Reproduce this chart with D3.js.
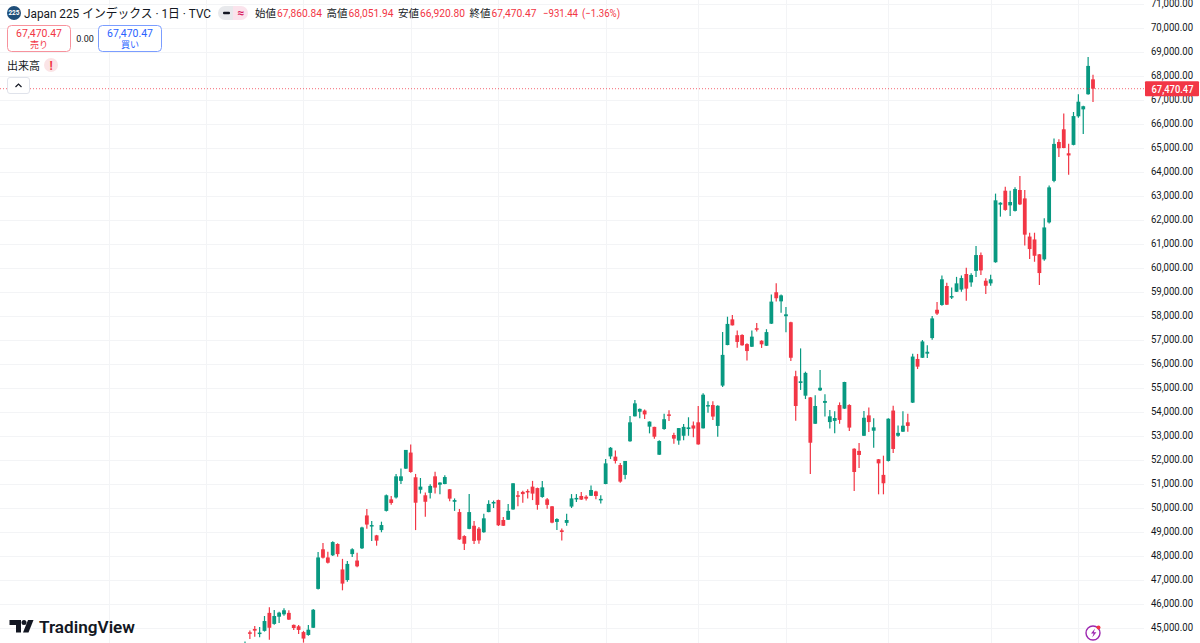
<!DOCTYPE html>
<html lang="ja">
<head>
<meta charset="utf-8">
<script src="https://cdn.jsdelivr.net/npm/d3@7"></script>
<style>
html,body{margin:0;padding:0;background:#fff;overflow:hidden}
svg{display:block}
text{font-family:Roboto,"Noto Sans CJK JP",sans-serif}
</style>
</head>
<body>
<svg id="chart" width="1200" height="643"></svg>
<script>
// Daily OHLC of the Japan 225 index, oldest session first.
const opens = [
 44000,44820,44960,44760,44880,45630,45170,45470,45570,45630,
 45130,45070,44830,44710,45010,46630,48280,47940,48030,48500,
 47440,47000,48080,47810,48320,49690,49250,48860,49080,49880,
 50360,50440,51130,51640,52310,51280,50760,50530,50630,51320,
 50970,51000,50780,50260,49830,48830,49130,49260,49140,48990,
 49830,50210,50330,49500,49510,49940,50530,50670,50710,50890,
 50830,50460,50360,50070,49420,49070,49380,50060,50360,50500,
 50470,50510,50690,50330,51000,52150,52140,51790,51380,52780,
 53820,54010,54060,53390,53380,52220,53290,53900,53040,52810,
 53010,53290,53440,53570,53320,54250,54290,53420,55100,56790,
 57860,57200,57210,56830,56720,57490,56970,56760,57680,58990,
 58610,57990,57740,55490,55210,54680,54610,53510,54900,54380,
 53580,53630,54290,54140,54290,52470,52380,53010,53860,53220,
 52030,51380,51960,54060,53010,53180,53570,54390,56210,56260,
 56430,57080,58260,58460,59250,58790,59010,59100,59750,59400,
 59880,60540,59470,59360,60240,62640,63220,62610,62380,63250,
 62900,61310,61190,60570,60360,61900,63630,65250,65780,64780,
 65130,66320,66610,67240,67860.84];
const highs = [
 44440,44900,45080,45040,45500,45860,45750,45680,45820,45740,
 45150,45130,44880,45130,45790,48170,48540,48180,48610,48530,
 47880,47790,48320,48140,49220,49960,49460,48880,49430,50560,
 50500,51420,51650,52420,52650,51420,51250,50650,50990,51510,
 51070,51360,50790,50400,49960,48860,50580,49460,49210,49760,
 50320,50310,50350,49630,50170,51030,50710,50720,50780,51130,
 50850,51130,50420,50080,49570,49150,49760,50580,50580,50670,
 50530,50940,50720,50530,52040,52540,52400,51880,51960,53830,
 54500,54150,54100,53610,53390,52820,53930,54070,53140,53330,
 53500,53780,53600,54250,54780,54450,54450,54280,57330,57970,
 58040,57400,57240,56860,57400,57710,56990,57450,58900,59360,
 58900,58380,57760,55720,56650,55680,54630,54700,55750,54740,
 54080,54030,54400,55260,54320,52490,52710,54040,54190,53740,
 52040,52180,53740,54260,53440,54030,53930,56430,56420,57000,
 56780,58000,58580,59690,59390,59190,59630,59690,60010,59780,
 60920,60650,59570,59720,63100,62740,63390,63220,63360,63830,
 63250,61470,61470,60580,62070,63440,65400,65360,66440,65180,
 66500,67240,66760,68790,68051.94];
const lows = [
 43900,44540,44640,44610,44850,44510,45140,45210,45510,45330,
 44920,44750,44390,44680,45000,46600,47900,47690,48000,47970,
 46570,46930,47960,47530,48290,49140,48630,48430,48990,49850,
 50140,50400,51000,51620,51470,49080,50600,49640,50400,50600,
 50570,50990,50280,49880,48670,48250,49110,48500,48510,48970,
 49820,50000,49250,49250,49500,49930,50070,50220,50400,50330,
 49930,50430,49970,49360,49080,48650,49260,50000,50250,50330,
 50310,50500,50360,50190,50990,52040,51850,51050,51200,52760,
 53810,53740,53710,53110,52890,52210,53260,53630,52680,52640,
 52820,53010,52950,52640,53310,53970,53670,52970,55040,56780,
 57600,56680,56760,56150,56710,57350,56670,56750,57670,58600,
 58140,57320,56130,53640,54920,54540,51420,53500,54880,53810,
 53310,53110,53510,54130,53210,50710,51670,53000,53170,52510,
 50570,50570,51940,52290,52970,53170,53180,54380,55790,56250,
 56250,57010,58040,58430,58460,58710,59000,59010,58640,59220,
 59630,59710,58920,59260,60220,62140,62390,62170,62350,62630,
 60940,60380,60260,59290,60300,61850,63570,64630,64990,63890,
 65110,66260,65580,67220,66920.80];
const closes = [
 44300,44760,44890,44810,45290,45010,45500,45640,45740,45350,
 45000,44920,44560,44930,45760,47940,47930,47720,48580,48080,
 46850,47670,48280,47570,49190,49310,49290,48640,49290,50530,
 50210,51320,51320,52420,51500,50220,50890,50260,50920,50850,
 51060,51290,50390,50330,48690,48510,49830,48630,48650,49570,
 50170,50250,49280,49260,49880,51030,50470,50580,50670,50600,
 50130,50860,50130,49390,49540,49000,49500,50400,50420,50350,
 50390,50750,50500,50380,51860,52510,51960,51100,51960,53570,
 54360,54130,53900,53600,52970,52790,53700,53850,52890,53330,
 53380,53360,53310,52650,54720,54290,53810,54260,56380,57670,
 57610,56920,56780,56540,57140,57430,56820,57330,58600,58740,
 58860,58070,56260,54250,55280,55630,52720,54250,55010,54460,
 53820,53750,53670,55250,53350,51500,52210,53760,53580,53360,
 51860,51030,53720,52460,53130,53430,53420,56310,55890,56940,
 56510,57900,58100,59530,58470,58830,59360,59580,59140,59710,
 60540,59900,59260,59530,62820,62720,62420,62750,63290,62650,
 61390,60790,60510,59790,61690,63360,65170,64990,65000,64690,
 66330,66930,66740,68420,67470.47];

// Price ticks on the right-hand scale and session offsets of the month gridlines.
const priceTicks = d3.range(45000, 71001, 1000);
const monthStartBars = [-28,-8,12,34,52,74,93,111,132,153,171];

const lastClose = closes[closes.length - 1];
const headerOHLC = [
  {label:"始値", value:opens[opens.length-1]},
  {label:"高値", value:highs[highs.length-1]},
  {label:"安値", value:lows[lows.length-1]},
  {label:"終値", value:lastClose}
];

const UP = "#089981", DOWN = "#f23645";
const svg = d3.select("#chart");
const fmt = d3.format(",.2f");

const x = d3.scaleLinear().domain([0, opens.length - 1]).range([245, 1093]);
const y = d3.scaleLinear().domain([45000, 71000]).range([628, 4]);

// Gridlines
const grid = svg.append("g").attr("stroke", "#f3f4f6").attr("stroke-width", 1);
grid.selectAll("line.h").data(priceTicks).join("line").attr("class", "h")
  .attr("x1", 0).attr("x2", 1144)
  .attr("y1", d => Math.round(y(d)) + 0.5).attr("y2", d => Math.round(y(d)) + 0.5);
grid.selectAll("line.v").data(monthStartBars).join("line").attr("class", "v")
  .attr("y1", 0).attr("y2", 643)
  .attr("x1", d => Math.round(x(d)) + 0.5).attr("x2", d => Math.round(x(d)) + 0.5);

// Candlesticks
const bars = d3.range(opens.length);
const colour = i => closes[i] >= opens[i] ? UP : DOWN;
const candles = svg.append("g");
candles.selectAll("line").data(bars).join("line")
  .attr("x1", x).attr("x2", x)
  .attr("y1", i => y(highs[i])).attr("y2", i => y(lows[i]))
  .attr("stroke", colour).attr("stroke-width", 1.2);
candles.selectAll("rect").data(bars).join("rect")
  .attr("x", i => x(i) - 1.9).attr("width", 3.8)
  .attr("y", i => y(Math.max(opens[i], closes[i])))
  .attr("height", i => Math.max(1.5, Math.abs(y(opens[i]) - y(closes[i]))))
  .attr("fill", colour);

// Last-price marker
svg.append("line").attr("x1", 0).attr("x2", 1145)
  .attr("y1", y(lastClose)).attr("y2", y(lastClose))
  .attr("stroke", DOWN).attr("stroke-width", 1).attr("stroke-opacity", 0.75).attr("stroke-dasharray", "1 2");

// Price axis
const axis = d3.axisRight(y).tickValues(priceTicks).tickFormat(fmt).tickSize(0).tickPadding(0);
const axisG = svg.append("g").attr("transform", "translate(1151,-0.7)").call(axis);
axisG.select(".domain").remove();
axisG.selectAll("text")
  .attr("fill", "#131722").attr("font-size", 11).attr("font-family", "Roboto")
  .attr("textLength", 42).attr("lengthAdjust", "spacingAndGlyphs");

svg.append("rect").attr("x", 1145).attr("y", y(lastClose) - 7.5).attr("width", 54).attr("height", 15)
  .attr("rx", 1).attr("fill", DOWN);
svg.append("text").attr("x", 1151.5).attr("y", y(lastClose) + 3.8)
  .attr("fill", "#fff").attr("font-size", 11).attr("font-weight", 500)
  .attr("textLength", 42).attr("lengthAdjust", "spacingAndGlyphs").text(fmt(lastClose));

// Header: symbol badge and title
svg.append("circle").attr("cx", 14).attr("cy", 13).attr("r", 7).attr("fill", "#1f4e79");
svg.append("text").attr("x", 14).attr("y", 15.3).attr("text-anchor", "middle")
  .attr("font-size", 6.5).attr("font-weight", 700).attr("fill", "#fff").text("225");
svg.append("text").attr("x", 24).attr("y", 17.5).attr("font-size", 12.5).attr("fill", "#131722")
  .attr("textLength", 187).attr("lengthAdjust", "spacingAndGlyphs")
  .text("Japan 225 インデックス · 1日 · TVC");

// Header: status pill
svg.append("path").attr("d", "M233 6H225a7 7 0 0 0 0 14h8Z").attr("fill", "#e8e9ec");
svg.append("path").attr("d", "M233 6h8a7 7 0 0 1 0 14h-8Z").attr("fill", "#fbe3ec");
svg.append("rect").attr("x", 223).attr("y", 11.8).attr("width", 7).attr("height", 2.4).attr("rx", 1).attr("fill", "#131722");
svg.append("text").attr("x", 241).attr("y", 17).attr("text-anchor", "middle")
  .attr("font-size", 12).attr("font-weight", 700).attr("fill", "#d81b60").text("≈");

// Header: OHLC read-out
const labelX = [255, 326.5, 398, 469.5];
const head = svg.append("g").attr("font-size", 11);
headerOHLC.forEach((d, i) => {
  head.append("text").attr("x", labelX[i]).attr("y", 17).attr("fill", "#131722").attr("font-size", 10.5).text(d.label);
  head.append("text").attr("x", labelX[i] + 22).attr("y", 17).attr("fill", DOWN)
    .attr("textLength", 45).attr("lengthAdjust", "spacingAndGlyphs").text(fmt(d.value));
});
head.append("text").attr("x", 543).attr("y", 17).attr("fill", DOWN)
  .attr("textLength", 35).attr("lengthAdjust", "spacingAndGlyphs").text("−931.44");
head.append("text").attr("x", 582).attr("y", 17).attr("fill", DOWN)
  .attr("textLength", 38).attr("lengthAdjust", "spacingAndGlyphs").text("(−1.36%)");

// Sell and buy boxes
function tradeBox(bx, w, stroke, ink, label) {
  svg.append("rect").attr("x", bx + .5).attr("y", 25.5).attr("width", w).attr("height", 26).attr("rx", 4)
    .attr("fill", "#fff").attr("stroke", stroke);
  svg.append("text").attr("x", bx + w / 2 + .5).attr("y", 37).attr("text-anchor", "middle")
    .attr("fill", ink).attr("font-size", 11).attr("textLength", 46).attr("lengthAdjust", "spacingAndGlyphs")
    .text(fmt(lastClose));
  svg.append("text").attr("x", bx + w / 2 + .5).attr("y", 48).attr("text-anchor", "middle")
    .attr("fill", ink).attr("font-size", 9).text(label);
}
tradeBox(7, 63, "#f7929c", DOWN, "売り");
tradeBox(98, 63, "#7b9dff", "#2962ff", "買い");
svg.append("text").attr("x", 85).attr("y", 42).attr("text-anchor", "middle")
  .attr("font-size", 9).attr("fill", "#131722").text("0.00");

// Volume legend row
svg.append("text").attr("x", 7).attr("y", 69.5).attr("font-size", 11).attr("fill", "#131722").text("出来高");
svg.append("circle").attr("cx", 51).attr("cy", 65).attr("r", 7).attr("fill", "#fbe4e6");
svg.append("text").attr("x", 51).attr("y", 69.5).attr("text-anchor", "middle")
  .attr("font-size", 12).attr("font-weight", 700).attr("fill", DOWN).text("!");

// Collapse button
svg.append("rect").attr("x", 7.5).attr("y", 77.5).attr("width", 22).attr("height", 16).attr("rx", 2.5)
  .attr("fill", "#fff").attr("stroke", "#e0e3eb");
svg.append("path").attr("d", "M15.5 87l3-3 3 3").attr("fill", "none").attr("stroke", "#131722").attr("stroke-width", 1.2);

// Wordmark
svg.append("path").attr("d", "M9.5 620H21v12.5h-5V625H9.5Z").attr("fill", "#131722");
svg.append("circle").attr("cx", 24).attr("cy", 622.5).attr("r", 2.5).attr("fill", "#131722");
svg.append("path").attr("d", "M28 620h5.5l-5 12.5H23Z").attr("fill", "#131722");
svg.append("text").attr("x", 39).attr("y", 632.5).attr("font-family", "Inter, Roboto")
  .attr("font-size", 17).attr("font-weight", 600).attr("fill", "#131722")
  .attr("textLength", 96).attr("lengthAdjust", "spacingAndGlyphs").text("TradingView");

// Data-speed badge
svg.append("circle").attr("cx", 1093).attr("cy", 633).attr("r", 7).attr("fill", "#fff")
  .attr("stroke", "#9c27b0").attr("stroke-width", 1.4);
svg.append("path").attr("d", "M1095 628.5l-4 5h2.6l-1.4 4 4.2-5.2h-2.6Z").attr("fill", "#9c27b0");
svg.append("circle").attr("cx", 1098.5).attr("cy", 627.5).attr("r", 2).attr("fill", DOWN);
</script>
</body>
</html>
